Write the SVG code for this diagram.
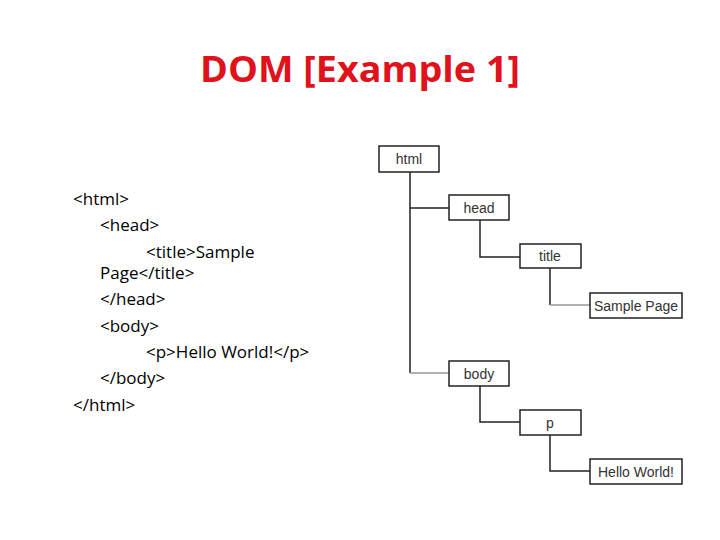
<svg xmlns="http://www.w3.org/2000/svg" width="720" height="540" viewBox="0 0 720 540">
<style>
.n{fill:#fff;stroke:#222;stroke-width:1.5}
.t{font-family:"Liberation Sans",Arial,sans-serif;font-size:14px;fill:#333;text-anchor:middle}
.c{font-family:"Open Sans","Noto Sans",sans-serif;font-size:17px;fill:#000}
.l{stroke:#222;stroke-width:1.5;fill:none}
.g{stroke:#999;stroke-width:1.5;fill:none}
</style>
<rect width="720" height="540" fill="#fff"/>
<text x="360" y="82" text-anchor="middle" font-family="Open Sans,Noto Sans,sans-serif" font-size="36" font-weight="bold" fill="#e0121b" textLength="320" lengthAdjust="spacingAndGlyphs">DOM [Example 1]</text>
<g id="code" class="c">
<text x="73" y="205">&lt;html&gt;</text>
<text x="100" y="231">&lt;head&gt;</text>
<text x="146" y="258">&lt;title&gt;Sample</text>
<text x="100" y="279">Page&lt;/title&gt;</text>
<text x="100" y="305">&lt;/head&gt;</text>
<text x="100" y="332">&lt;body&gt;</text>
<text x="146" y="358">&lt;p&gt;Hello World!&lt;/p&gt;</text>
<text x="100" y="384">&lt;/body&gt;</text>
<text x="73" y="411">&lt;/html&gt;</text>
</g>
<g id="connectors">
<path class="l" d="M410 172V373M410 208H449M480 220V257H520M550 268V305"/>
<path class="g" d="M550 305H590M410 373H449"/>
<path class="l" d="M480 386V422H520M550 435V471H590"/>
</g>
<g id="html"><rect class="n" x="379" y="146" width="60" height="26"/><text class="t" x="409" y="164">html</text></g>
<g id="head"><rect class="n" x="449" y="195" width="60" height="25"/><text class="t" x="479" y="213">head</text></g>
<g id="title"><rect class="n" x="520" y="244" width="61" height="24"/><text class="t" x="550" y="261">title</text></g>
<g id="sample"><rect class="n" x="590" y="293" width="92" height="25"/><text class="t" x="636" y="311">Sample Page</text></g>
<g id="body"><rect class="n" x="449" y="361" width="60" height="25"/><text class="t" x="479" y="379">body</text></g>
<g id="p"><rect class="n" x="520" y="410" width="61" height="25"/><text class="t" x="550" y="428">p</text></g>
<g id="hello"><rect class="n" x="590" y="459" width="92" height="25"/><text class="t" x="636" y="477">Hello World!</text></g>
</svg>
